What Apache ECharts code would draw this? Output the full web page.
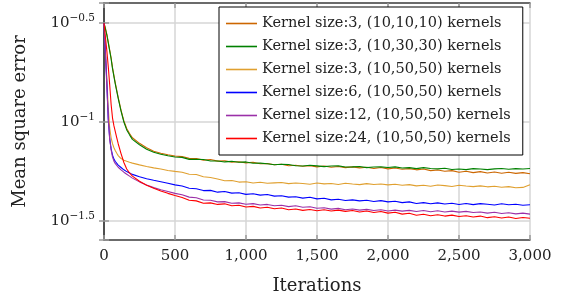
<!DOCTYPE html>
<html>
<head>
<meta charset="utf-8">
<script src="https://cdn.jsdelivr.net/npm/echarts@6/dist/echarts.min.js"></script>
<style>
  html, body { margin: 0; padding: 0; background: #fff; }
  #chart { width: 566px; height: 301px; }
</style>
</head>
<body>
<div id="chart"></div>
<script>
// iterations (x)
const iterations = [0, 10, 20, 30, 40, 50, 60, 70, 80, 90, 100, 120, 140, 160, 180, 200, 250, 300, 350, 400, 450, 500,
  550, 600, 650, 700, 750, 800, 850, 900, 950, 1000, 1050, 1100, 1150, 1200, 1250, 1300, 1350, 1400, 1450, 1500,
  1550, 1600, 1650, 1700, 1750, 1800, 1850, 1900, 1950, 2000, 2050, 2100, 2150, 2200, 2250, 2300, 2350, 2400, 2450, 2500,
  2550, 2600, 2650, 2700, 2750, 2800, 2850, 2900, 2950, 3000]

const k3_101010 = [-0.5, -0.525, -0.555, -0.595, -0.635, -0.675, -0.725, -0.765, -0.805, -0.84, -0.875, -0.94, -0.995, -1.033, -1.058, -1.08, -1.108, -1.13, -1.148, -1.158, -1.166, -1.172,
  -1.175, -1.184, -1.185, -1.193, -1.190, -1.198, -1.196, -1.203, -1.201, -1.207, -1.204, -1.211, -1.210, -1.216, -1.214, -1.221, -1.219, -1.224, -1.221, -1.227,
  -1.223, -1.229, -1.225, -1.231, -1.227, -1.232, -1.229, -1.235, -1.230, -1.237, -1.233, -1.239, -1.236, -1.242, -1.238, -1.246, -1.243, -1.249, -1.246, -1.254,
  -1.249, -1.256, -1.251, -1.258, -1.253, -1.259, -1.254, -1.260, -1.256, -1.262]
const k3_103030 = [-0.5, -0.53, -0.56, -0.6, -0.64, -0.68, -0.73, -0.77, -0.81, -0.845, -0.88, -0.945, -1.0, -1.04, -1.065, -1.088, -1.115, -1.138, -1.153, -1.163, -1.171, -1.177,
  -1.179, -1.189, -1.189, -1.190, -1.197, -1.197, -1.202, -1.199, -1.204, -1.202, -1.209, -1.208, -1.211, -1.216, -1.214, -1.215, -1.221, -1.223, -1.219, -1.222,
  -1.226, -1.223, -1.222, -1.228, -1.227, -1.225, -1.231, -1.228, -1.227, -1.230, -1.227, -1.233, -1.231, -1.236, -1.231, -1.235, -1.237, -1.234, -1.240, -1.238,
  -1.241, -1.236, -1.238, -1.241, -1.237, -1.235, -1.239, -1.236, -1.238, -1.235]
const k3_105050 = [-0.5, -0.64, -0.78, -0.93, -1.03, -1.08, -1.11, -1.13, -1.145, -1.158, -1.17, -1.185, -1.193, -1.199, -1.204, -1.208, -1.217, -1.225, -1.232, -1.238, -1.245, -1.25,
  -1.254, -1.264, -1.266, -1.277, -1.281, -1.288, -1.297, -1.296, -1.304, -1.302, -1.309, -1.305, -1.310, -1.308, -1.306, -1.312, -1.309, -1.311, -1.315, -1.309,
  -1.313, -1.311, -1.316, -1.310, -1.314, -1.317, -1.312, -1.316, -1.314, -1.318, -1.315, -1.320, -1.317, -1.323, -1.320, -1.325, -1.319, -1.322, -1.326, -1.320,
  -1.324, -1.327, -1.323, -1.328, -1.325, -1.330, -1.327, -1.333, -1.331, -1.318]
const k6_105050 = [-0.5, -0.65, -0.8, -0.99, -1.08, -1.135, -1.168, -1.188, -1.2, -1.21, -1.218, -1.23, -1.242, -1.251, -1.258, -1.265, -1.277, -1.287, -1.295, -1.302, -1.31, -1.318,
  -1.324, -1.335, -1.338, -1.347, -1.346, -1.355, -1.352, -1.360, -1.358, -1.366, -1.363, -1.370, -1.367, -1.375, -1.373, -1.380, -1.378, -1.385, -1.381, -1.389,
  -1.386, -1.394, -1.391, -1.397, -1.394, -1.399, -1.396, -1.402, -1.398, -1.404, -1.401, -1.408, -1.404, -1.412, -1.408, -1.414, -1.409, -1.415, -1.411, -1.417,
  -1.412, -1.418, -1.413, -1.416, -1.420, -1.414, -1.419, -1.416, -1.421, -1.419]
const k12_105050 = [-0.5, -0.66, -0.82, -0.98, -1.09, -1.14, -1.178, -1.198, -1.211, -1.221, -1.229, -1.242, -1.254, -1.264, -1.274, -1.284, -1.303, -1.319, -1.332, -1.343, -1.352, -1.361,
  -1.368, -1.380, -1.383, -1.395, -1.396, -1.404, -1.403, -1.411, -1.409, -1.416, -1.413, -1.420, -1.417, -1.424, -1.421, -1.428, -1.424, -1.431, -1.429, -1.436,
  -1.434, -1.441, -1.437, -1.444, -1.440, -1.446, -1.442, -1.448, -1.444, -1.450, -1.446, -1.451, -1.447, -1.453, -1.448, -1.454, -1.449, -1.455, -1.451, -1.456,
  -1.452, -1.458, -1.455, -1.461, -1.457, -1.463, -1.459, -1.465, -1.461, -1.466]
const k24_105050 = [-0.5, -0.57, -0.64, -0.72, -0.81, -0.91, -0.98, -1.02, -1.05, -1.08, -1.11, -1.16, -1.205, -1.238, -1.258, -1.274, -1.3, -1.32, -1.335, -1.349, -1.361, -1.372,
  -1.382, -1.396, -1.399, -1.411, -1.409, -1.417, -1.414, -1.424, -1.421, -1.430, -1.427, -1.435, -1.431, -1.439, -1.435, -1.444, -1.440, -1.447, -1.443, -1.449,
  -1.444, -1.450, -1.446, -1.452, -1.448, -1.455, -1.450, -1.458, -1.453, -1.461, -1.457, -1.466, -1.462, -1.472, -1.467, -1.474, -1.469, -1.476, -1.471, -1.478,
  -1.474, -1.481, -1.476, -1.484, -1.479, -1.486, -1.481, -1.488, -1.483, -1.487]

const names = [
  'Kernel size:3, (10,10,10) kernels',
  'Kernel size:3, (10,30,30) kernels',
  'Kernel size:3, (10,50,50) kernels',
  'Kernel size:6, (10,50,50) kernels',
  'Kernel size:12, (10,50,50) kernels',
  'Kernel size:24, (10,50,50) kernels'
]
const values = [k3_101010, k3_103030, k3_105050, k6_105050, k12_105050, k24_105050]
const colors = ['#cc6600', '#008000', '#e0a030', '#0000ff', '#9b30a8', '#ff0000']

const font = 'DejaVu Serif'
const chart = echarts.init(document.getElementById('chart'))

const series = names.map((name, i) => ({
  name: name,
  type: 'line',
  symbol: 'none',
  showSymbol: false,
  xAxisIndex: 0,
  yAxisIndex: 0,
  lineStyle: { width: 1.1, color: colors[i] },
  itemStyle: { color: colors[i] },
  data: iterations.map((it, j) => [it, Math.pow(10, values[i][j])])
}))

function expLabel(v) {
  const e = Math.round(Math.log10(v) * 10) / 10
  if (Math.abs(e * 2 - Math.round(e * 2)) > 1e-6) return ''
  return '{b|10}{s|\u2212' + Math.abs(e) + '}'
}

function thousands(v) {
  if (v < 1000) return String(v)
  return Math.floor(v / 1000) + ',' + String(v % 1000).padStart(3, '0')
}

const yMin = Math.pow(10, -1.597)
const yMax = Math.pow(10, -0.398)
const tick = { show: true, inside: true, length: 5, lineStyle: { color: '#999', width: 1.5 } }
const frame = { show: true, lineStyle: { color: '#444', width: 1.5 } }

chart.setOption({
  animation: false,
  textStyle: { fontFamily: font },
  grid: { left: 104, right: 36, top: 3, bottom: 61, outerBoundsMode: 'none', containLabel: false },
  legend: {
    orient: 'vertical',
    left: 219,
    top: 7,
    padding: [9, 12, 9, 7],
    icon: 'rect',
    itemWidth: 31,
    itemHeight: 1.6,
    itemGap: 8,
    itemTextGap: 10,
    borderColor: '#000',
    borderWidth: 1,
    backgroundColor: '#fff',
    textStyle: { fontFamily: font, fontSize: 14.5, lineHeight: 14, color: '#222' },
    data: names
  },
  xAxis: [{
    type: 'value',
    min: 0,
    max: 3000,
    interval: 500,
    name: 'Iterations',
    nameLocation: 'middle',
    nameGap: 37,
    nameTextStyle: { fontFamily: font, fontSize: 18, color: '#222' },
    axisLine: frame,
    axisTick: tick,
    axisLabel: { fontFamily: font, fontSize: 15, color: '#222', margin: 9, formatter: thousands },
    splitLine: { show: true, lineStyle: { color: '#d6d6d6', width: 1.5 } }
  }, {
    type: 'value',
    position: 'top',
    min: 0,
    max: 3000,
    interval: 500,
    axisLine: frame,
    axisTick: tick,
    axisLabel: { show: false },
    splitLine: { show: false }
  }],
  yAxis: [{
    type: 'log',
    logBase: Math.sqrt(10),
    min: yMin,
    max: yMax,
    name: 'Mean square error',
    nameLocation: 'middle',
    nameGap: 75,
    nameTextStyle: { fontFamily: font, fontSize: 18, color: '#222' },
    axisLine: frame,
    axisTick: tick,
    axisLabel: {
      margin: 9,
      formatter: expLabel,
      rich: {
        b: { fontFamily: font, fontSize: 15, color: '#222' },
        s: { fontFamily: font, fontSize: 10.5, color: '#222', padding: [0, 0, 9, 0] }
      }
    },
    splitLine: { show: true, lineStyle: { color: '#d6d6d6', width: 1.5 } },
    minorTick: { show: false }
  }, {
    type: 'log',
    logBase: Math.sqrt(10),
    position: 'right',
    min: yMin,
    max: yMax,
    axisLine: frame,
    axisTick: tick,
    axisLabel: { show: false },
    splitLine: { show: false }
  }],
  series: series
})
</script>
</body>
</html>
